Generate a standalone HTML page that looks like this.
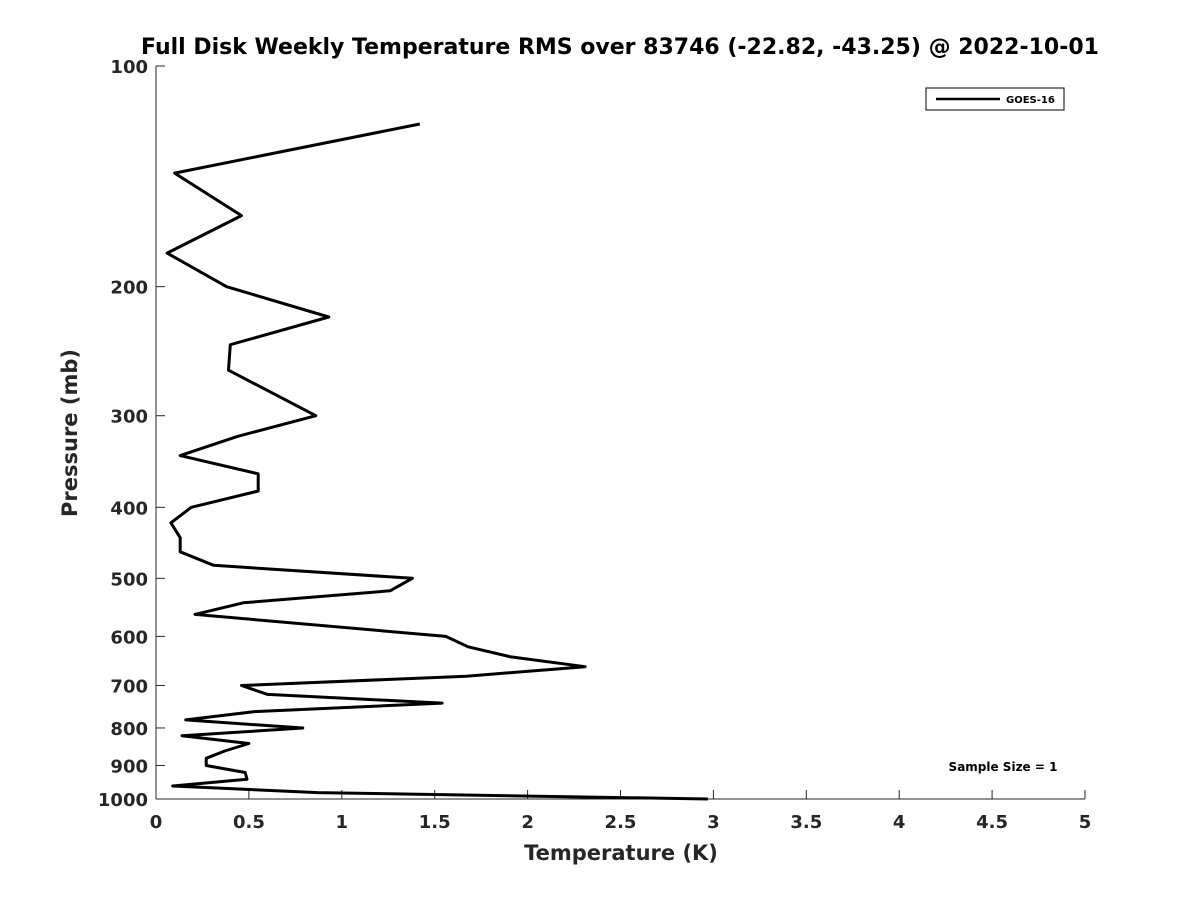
<!DOCTYPE html>
<html><head><meta charset="utf-8"><style>
body{margin:0;background:#fff;}
svg text{font-family:"DejaVu Sans","Liberation Sans",sans-serif;font-weight:bold;fill:#262626;}
</style></head><body>
<svg width="1200" height="900" viewBox="0 0 1200 900">
<text x="620" y="54" text-anchor="middle" font-size="22" style="fill:#000">Full Disk Weekly Temperature RMS over 83746 (-22.82, -43.25) @ 2022-10-01</text>
<g id="axes"></g>
<g id="plot"></g>
<rect x="926" y="88" width="138" height="22" fill="#fff" stroke="#000" stroke-width="1"/>
<line x1="936" y1="99" x2="1000" y2="99" stroke="#000" stroke-width="2.5"/>
<text x="1006" y="103" font-size="10" style="fill:#000">GOES-16</text>
<text x="1003" y="771" text-anchor="middle" font-size="12" style="fill:#000">Sample Size = 1</text>
<text x="621" y="860" text-anchor="middle" font-size="21">Temperature (K)</text>
<text transform="translate(77,433) rotate(-90)" text-anchor="middle" font-size="21">Pressure (mb)</text>
</svg>
<script>
const temps=[1.42,0.10,0.46,0.06,0.38,0.93,0.40,0.39,0.86,0.44,0.13,0.55,0.55,0.19,0.08,0.13,0.13,0.31,1.38,1.26,0.47,0.21,1.56,1.68,1.91,2.31,1.67,0.46,0.60,1.54,0.53,0.16,0.79,0.14,0.50,0.37,0.27,0.27,0.48,0.49,0.09,0.87,2.97];
const pressures=[120,140,160,180,200,220,240,260,300,320,340,360,380,400,420,440,460,480,500,520,540,560,600,620,640,660,680,700,720,740,760,780,800,820,840,860,880,900,920,940,960,980,1000];
const xTicks=[0,0.5,1,1.5,2,2.5,3,3.5,4,4.5,5];
const xTickLabels=["0","0.5","1","1.5","2","2.5","3","3.5","4","4.5","5"];
const yTicks=[100,200,300,400,500,600,700,800,900,1000];
const NS="http://www.w3.org/2000/svg";
const X0=156,X1=1085,Y0=66,Y1=799;
const xs=v=>X0+(v-0)/(5-0)*(X1-X0);
const ys=p=>Y0+(Math.log10(p)-2)/1*(Y1-Y0);
function mk(t,a,parent){const e=document.createElementNS(NS,t);for(const k in a)e.setAttribute(k,a[k]);parent.appendChild(e);return e;}
const ax=document.getElementById('axes'),pl=document.getElementById('plot');
let l=mk('line',{x1:X0,y1:Y0,x2:X0,y2:Y1,stroke:'#262626','stroke-width':1},ax);


l=mk('line',{x1:X0,y1:Y1,x2:X1,y2:Y1,stroke:'#262626','stroke-width':1},ax);


xTicks.forEach((v,i)=>{
 const t=mk('line',{x1:xs(v),y1:Y1,x2:xs(v),y2:Y1-9,stroke:'#262626'},ax);
 
 
 const tx=mk('text',{x:xs(v),y:Y1+29,'text-anchor':'middle','font-size':18},ax);
 tx.textContent=xTickLabels[i];
 
 
});
yTicks.forEach(p=>{
 const t=mk('line',{x1:X0,y1:ys(p),x2:X0+9,y2:ys(p),stroke:'#262626'},ax);
 
 
 const tx=mk('text',{x:X0-8,y:ys(p)+7,'text-anchor':'end','font-size':18},ax);
 tx.textContent=String(p);
 
 
});
const pts=temps.map((t,i)=>xs(t).toFixed(1)+','+ys(pressures[i]).toFixed(1)).join(' ');
const line=mk('polyline',{points:pts,fill:'none',stroke:'#000','stroke-width':3,'stroke-linejoin':'round'},pl);


</script>
</body></html>
